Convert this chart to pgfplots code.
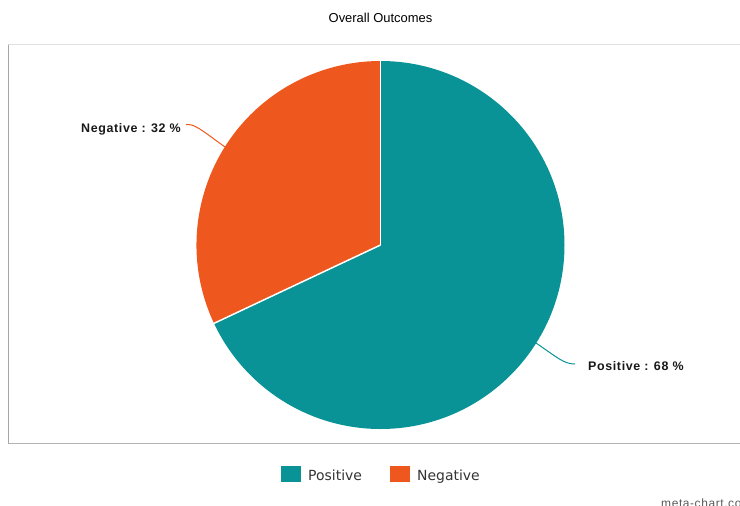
\documentclass[border=0pt]{standalone}
\usepackage{pgfplots}
\pgfplotsset{compat=1.18}
\usepackage{pgfplotstable}
\usepackage{fontspec}
\setmainfont{Liberation Sans}
\newfontfamily\labfont[LetterSpace=5]{Liberation Sans}
\newfontfamily\legfont{DejaVu Sans}
\definecolor{posc}{HTML}{0A9396}
\definecolor{negc}{HTML}{EE581F}
\definecolor{txtc}{HTML}{333333}

\pgfplotstableread{
label value
Positive 68
Negative 32
}\outcomes

\begin{document}
\begin{tikzpicture}
\useasboundingbox (0,0) rectangle (740bp,506bp);
\pgfplotstablegetelem{0}{value}\of\outcomes \edef\vpos{\pgfplotsretval}
\pgfplotstablegetelem{1}{value}\of\outcomes \edef\vneg{\pgfplotsretval}
\pgfmathsetmacro{\apos}{\vpos/(\vpos+\vneg)*360}
\pgfmathsetmacro{\aend}{90-\apos}
\begin{axis}[at={(0,0)}, anchor=south west, scale only axis,
  width=740bp, height=506bp, xmin=0, xmax=740, ymin=0, ymax=506,
  y dir=reverse, hide axis, clip=true]
% frame
\draw[color=black!12, line width=1bp] (axis cs:8,45) -- (axis cs:740,45);
\draw[color=black!35, line width=1bp] (axis cs:8,45) -- (axis cs:8,443);
\draw[color=black!30, line width=1bp] (axis cs:8,443) -- (axis cs:740,443);
% title
\node[anchor=base, font=\fontsize{13}{15}\selectfont, text=black] at (axis cs:380.5,23) {Overall Outcomes};
% pie
\fill[posc] (axis cs:380.5,245) -- ++(90:184bp) arc[start angle=90, end angle=\aend, radius=184bp] -- cycle;
\fill[negc] (axis cs:380.5,245) -- ++(\aend:184bp) arc[start angle=\aend, end angle=-270, radius=184bp] -- cycle;
\draw[white, line width=1.5bp] (axis cs:380.5,245) -- ++(90:184bp);
\draw[white, line width=1.5bp] (axis cs:380.5,245) -- ++(\aend:184bp);
% leader lines
\draw[negc, line width=1bp] (axis cs:186,124.5) .. controls (axis cs:195,124) and (axis cs:200,129) .. (axis cs:225,147);
\draw[posc, line width=1bp] (axis cs:536,343) .. controls (axis cs:558,358) and (axis cs:564,364) .. (axis cs:575,364);
% labels
\node[anchor=base east, inner sep=0pt, font=\labfont\bfseries\fontsize{12.5}{14}\selectfont, text=black!90] at (axis cs:181,132.5) {Negative : \vneg\ \%};
\node[anchor=base west, inner sep=0pt, font=\labfont\bfseries\fontsize{12.5}{14}\selectfont, text=black!90] at (axis cs:588,370.5) {Positive : \vpos\ \%};
% legend
\fill[posc] (axis cs:281,466) rectangle (axis cs:301,482);
\node[anchor=base west, inner sep=0pt, font=\legfont\fontsize{14}{16}\selectfont, text=txtc] at (axis cs:308,480) {Positive};
\fill[negc] (axis cs:390,466) rectangle (axis cs:410,482);
\node[anchor=base west, inner sep=0pt, font=\legfont\fontsize{14}{16}\selectfont, text=txtc] at (axis cs:417,480) {Negative};
% watermark
\node[anchor=base west, inner sep=0pt, font=\labfont\fontsize{12}{14}\selectfont, text=black!65] at (axis cs:661,507.5) {meta-chart.com};
\end{axis}
\end{tikzpicture}
\end{document}
